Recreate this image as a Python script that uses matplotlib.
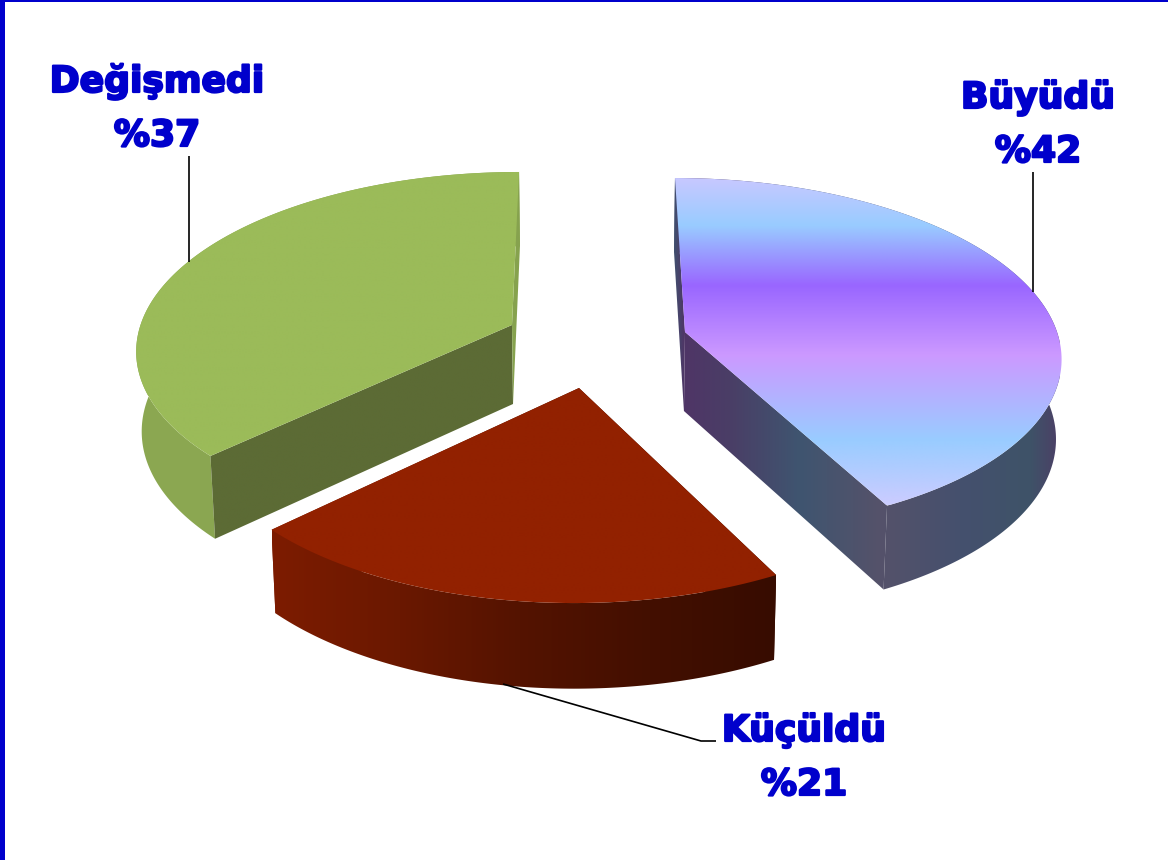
import numpy as np
import matplotlib
matplotlib.use("Agg")
import matplotlib.pyplot as plt
import matplotlib.patheffects as pe
from matplotlib.colors import LinearSegmentedColormap
from matplotlib.patches import Polygon, Rectangle

labels = ["Büyüdü", "Küçüldü", "Değişmedi"]
values = [42, 21, 37]
value_texts = ["%42", "%21", "%37"]

W, H = 1168, 860
BLUE = "#0000CC"
XC, DEPTH, CONV = 596.0, 79.0, 0.012

# per-slice view of the exploded pie: apex, semi-axes, perspective, shear
views = [
    dict(ax=685, ay=332, a=372, b=173.3, k=0.1255, s=0.065),
    dict(ax=579, ay=388, a=379, b=183.0, k=0.149, s=-0.024),
    dict(ax=512, ay=325, a=371.5, b=172.9, k=0.13, s=-0.046),
]
# small nudge of the slice boundaries, in degrees (view distortion)
nudges = [(0.0, 1.7), (1.3, -0.8), (-0.4, 0.0)]


def project(t, v):
    w = 1.0 / (1.0 + v["k"] * np.cos(t))
    dy = -v["b"] * np.cos(t) * w
    return v["ax"] + v["a"] * np.sin(t) * w + v["s"] * dy, v["ay"] + dy, w


def drop(x, y, w):
    return XC + (x - XC) * (1 - CONV), y + DEPTH * np.sqrt(w)


def fill(ax, verts, pairs, axis, z):
    """Paint a polygon with a gradient running along screen x or y."""
    xs = [p[0] for p in verts]
    ys = [p[1] for p in verts]
    lo, hi = pairs[0][0], pairs[-1][0]
    cmap = LinearSegmentedColormap.from_list(
        "g", [((p - lo) / (hi - lo), c) for p, c in pairs], N=512)
    grad = np.linspace(0, 1, 512)
    if axis == "x":
        img = grad[None, :]
        extent = (lo, hi, max(ys) + 2, min(ys) - 2)
    else:
        img = grad[:, None]
        extent = (min(xs) - 2, max(xs) + 2, hi, lo)
    im = ax.imshow(img, cmap=cmap, extent=extent, aspect="auto", zorder=z,
                   interpolation="bilinear")
    poly = Polygon(verts, closed=True, transform=ax.transData, fc="none", ec="none")
    ax.add_patch(poly)
    im.set_clip_path(poly)


def solid(c):
    return [(0, c), (W, c)]


top_styles = [
    [(178, "#C8C8FF"), (225, "#99CCFF"), (285, "#9966FF"), (355, "#CC99FF"),
     (440, "#99CCFF"), (505, "#CCCCFF")],
    solid("#922100"),
    solid("#9BBB59"),
]
wall_styles = [
    [(672, "#3E5570"), (684, "#4F3566"), (730, "#4A3E66"), (800, "#3F5570"),
     (880, "#55526A"), (960, "#45506E"), (1030, "#3E5368"), (1060, "#4C3F66")],
    [(272, "#7D1C00"), (400, "#6A1800"), (520, "#541300"), (650, "#430F00"),
     (776, "#370C00")],
    [(136, "#8CA852"), (520, "#86A24E")],
]
# colour of the two flat cut faces: (at start angle, at end angle)
cut_styles = [
    (wall_styles[0], wall_styles[0]),
    (wall_styles[1], wall_styles[1]),
    (solid("#5C6B35"), wall_styles[2]),
]

fig = plt.figure(figsize=(W / 100, H / 100), dpi=100, facecolor="white")
ax = fig.add_axes([0, 0, 1, 1])

total = sum(values)
start = 0.0
for i, val in enumerate(values):
    end = start + val / total * 2 * np.pi
    v = views[i]
    t = np.linspace(start + np.radians(nudges[i][0]),
                    end + np.radians(nudges[i][1]), 240)
    rx, ry, rw = project(t, v)
    bx, by = drop(rx, ry, rw)
    abx, aby = drop(v["ax"], v["ay"], 1.0)

    arc_wall = list(zip(rx, ry)) + list(zip(bx[::-1], by[::-1]))
    fill(ax, arc_wall, wall_styles[i], "x", 2)
    for j, style in zip((0, -1), cut_styles[i]):
        quad = [(v["ax"], v["ay"]), (rx[j], ry[j]), (bx[j], by[j]), (abx, aby)]
        fill(ax, quad, style, "x", 3)
    top = [(v["ax"], v["ay"])] + list(zip(rx, ry))
    fill(ax, top, top_styles[i], "y", 4)
    start = end

leaders = [
    ([1033, 1033], [172, 292]),
    ([503, 701, 716], [684, 741, 741]),
    ([189, 189], [156, 262]),
]
for lx, ly in leaders:
    ax.plot(lx, ly, color="black", lw=1.2, zorder=6, solid_capstyle="butt")

name_pos = [(1038, 108), (804, 741), (157, 92)]
pct_pos = [(1038, 162), (804, 795), (157, 146)]
for name, pct, np_, pp in zip(labels, value_texts, name_pos, pct_pos):
    for s, (x, y) in ((name, np_), (pct, pp)):
        ax.text(x, y, s, ha="center", va="baseline", color=BLUE,
                family="DejaVu Sans", weight="bold", fontsize=26, zorder=7,
                path_effects=[pe.withStroke(linewidth=1.6, foreground=BLUE)])

ax.add_patch(Rectangle((0, 0), 5, H, fc=BLUE, ec="none", zorder=8))
ax.add_patch(Rectangle((0, 0), W, 1.5, fc=BLUE, ec="none", zorder=8))

ax.set_xlim(0, W)
ax.set_ylim(H, 0)
ax.axis("off")
fig.savefig("out.png", dpi=100, facecolor="white")
